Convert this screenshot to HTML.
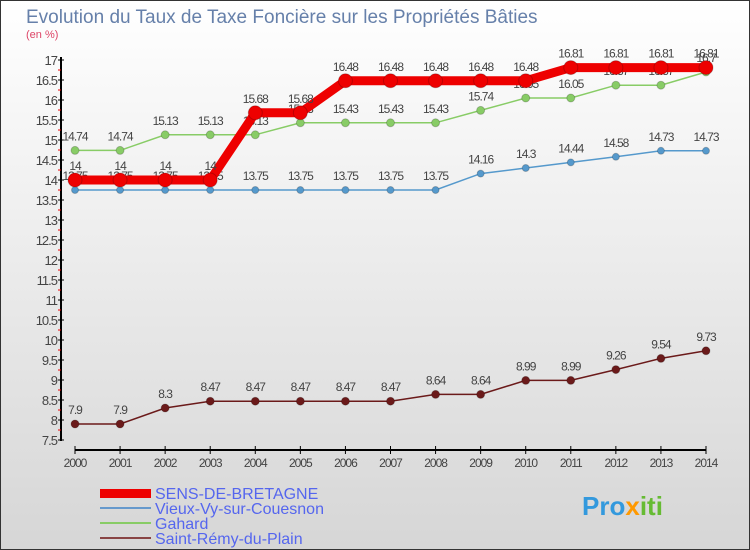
<!DOCTYPE html>
<html><head><meta charset="utf-8"><style>
body{margin:0;width:750px;height:550px;overflow:hidden;}
svg{display:block;font-family:"Liberation Sans",sans-serif;}
</style></head><body>
<svg id="chart" width="750" height="550">
<defs><linearGradient id="bg" x1="0" y1="0" x2="0" y2="1"><stop offset="0" stop-color="#ffffff"/><stop offset="1" stop-color="#d6d6d6"/></linearGradient></defs>
<rect x="0.5" y="0.5" width="749" height="549" fill="url(#bg)" stroke="#333"/>
<text x="26" y="23" font-size="19" fill="#6680aa">Evolution du Taux de Taxe Foncière sur les Propriétés Bâties</text>
<text x="26" y="38" font-size="11" fill="#dd4466">(en %)</text>
<g id="axes"></g><g id="series"></g>
<g>
<rect x="100" y="489" width="51" height="9" fill="#ee0000"/>
<text x="155" y="499" font-size="16" fill="#5566ee">SENS-DE-BRETAGNE</text>
<rect x="100" y="507" width="51" height="2" fill="#6699cc"/>
<text x="155" y="514" font-size="16" fill="#5566ee">Vieux-Vy-sur-Couesnon</text>
<rect x="100" y="522" width="51" height="2" fill="#88cc66"/>
<text x="155" y="529" font-size="16" fill="#5566ee">Gahard</text>
<rect x="100" y="537" width="51" height="2" fill="#884444"/>
<text x="155" y="544" font-size="16" fill="#5566ee">Saint-Rémy-du-Plain</text>
</g>
<text x="582" y="515" font-size="26" font-weight="bold" fill="#3399dd">Pro<tspan fill="#ff9900">x</tspan><tspan fill="#66bb33">iti</tspan></text>
</svg>
<script>
const years=[2000,2001,2002,2003,2004,2005,2006,2007,2008,2009,2010,2011,2012,2013,2014];
const sens=[14,14,14,14,15.68,15.68,16.48,16.48,16.48,16.48,16.48,16.81,16.81,16.81,16.81];
const vieux=[13.75,13.75,13.75,13.75,13.75,13.75,13.75,13.75,13.75,14.16,14.3,14.44,14.58,14.73,14.73];
const gahard=[14.74,14.74,15.13,15.13,15.13,15.43,15.43,15.43,15.43,15.74,16.05,16.05,16.37,16.37,16.7];
const saint=[7.9,7.9,8.3,8.47,8.47,8.47,8.47,8.47,8.64,8.64,8.99,8.99,9.26,9.54,9.73];
const yTicks=[7.5,8,8.5,9,9.5,10,10.5,11,11.5,12,12.5,13,13.5,14,14.5,15,15.5,16,16.5,17];
const NS="http://www.w3.org/2000/svg";
const X=i=>75+i*(631/14), Y=v=>60+(17-v)*40;
function mk(t,a,p){const e=document.createElementNS(NS,t);for(const k in a)e.setAttribute(k,a[k]);p.appendChild(e);return e;}
const ax=document.getElementById('axes');
let l=mk('line',{x1:61,y1:57,x2:61,y2:441,stroke:'#000','stroke-width':2},ax);


yTicks.forEach((v,k)=>{
 mk('line',{x1:58,x2:64,y1:Y(v),y2:Y(v),stroke:'#000'},ax);
 if(k>0) mk('line',{x1:58,x2:61,y1:Y(v)+10,y2:Y(v)+10,stroke:'#e00'},ax);
 const t=mk('text',{x:57,y:Y(v)+5,'text-anchor':'end','font-size':13,fill:'#444','letter-spacing':'-1'},ax);t.textContent=String(v);
 
 
});
l=mk('line',{x1:75,y1:450,x2:706,y2:450,stroke:'#000','stroke-width':2},ax);


years.forEach((y,i)=>{
 mk('line',{x1:X(i),x2:X(i),y1:446,y2:454,stroke:'#000'},ax);
 const t=mk('text',{x:X(i),y:467,'text-anchor':'middle','font-size':12,fill:'#444','letter-spacing':'-1'},ax);t.textContent=y;
 
 
});
const sg=document.getElementById('series');
function draw(data,color,w,r,name){
 const g=mk('g',{},sg);
 
 
 mk('polyline',{points:data.map((v,i)=>X(i)+','+Y(v)).join(' '),fill:'none',stroke:color,'stroke-width':w},g);
 data.forEach((v,i)=>{
  const c=mk('circle',{cx:X(i),cy:Y(v),r:r,fill:color,stroke:'#0003'},g);
  
  
  const t=mk('text',{x:X(i),y:Y(v)-10,'text-anchor':'middle','font-size':12,fill:'#444','letter-spacing':'-1'},g);t.textContent=String(v);
  
  
 });
}
draw(saint,'#6b1a1a',1.5,4,'series-saint-remy');
draw(vieux,'#5599cc',1.5,3.5,'series-vieux');
draw(gahard,'#88cc66',1.5,4,'series-gahard');
draw(sens,'#ee0000',9,7,'series-sens');
</script>
</body></html>
